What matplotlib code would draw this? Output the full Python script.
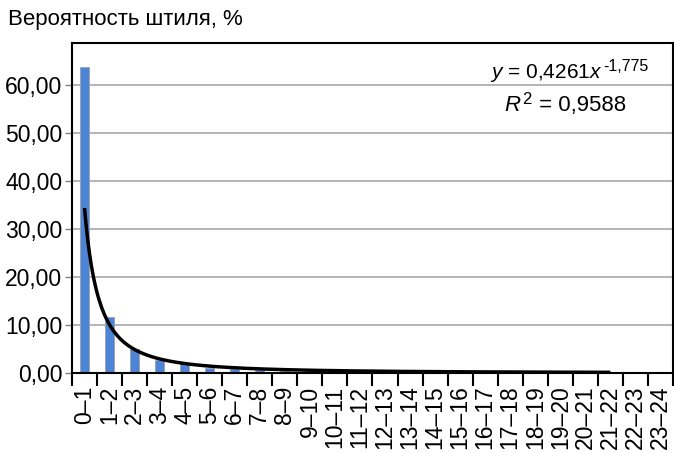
import numpy as np
import matplotlib
matplotlib.use("Agg")
import matplotlib.pyplot as plt
from matplotlib.ticker import FixedLocator, FuncFormatter

plt.rcParams['font.family'] = ['Liberation Sans', 'DejaVu Sans']
plt.rcParams['mathtext.fontset'] = 'custom'
plt.rcParams['mathtext.rm'] = 'Liberation Sans'
plt.rcParams['mathtext.it'] = 'Liberation Sans:italic'

# Hourly intervals of calm duration
categories = [f"{h}\u2013{h + 1}" for h in range(24)]

# Probability of calm, %
probability = [63.8, 11.7, 4.9, 2.7, 1.8, 1.1, 0.8, 0.6, 0.45, 0.4,
               0.35, 0.3, 0.25, 0.22, 0.2, 0.18, 0.15, 0.12, 0.1, 0.08,
               0.06, 0.05, 0.0, 0.0]

# Power trendline y = A * x^B
trend_coef = 0.4261
trend_exp = -1.775
trend_r2 = 0.9588
trend_start = 34.4          # trendline level at the first interval, %
trend_points = 22           # intervals covered by the trendline


def comma(v):
    return f"{v}".replace('.', ',')


fig = plt.figure(figsize=(6.74, 4.53), dpi=100)
ax = fig.add_axes([72 / 674, 1 - 373 / 453, 601 / 674, 330 / 453])

x = np.arange(len(categories))
ax.bar(x, probability, width=0.36, color='#4d84d6', edgecolor='#9aa3b0',
       linewidth=0.6, zorder=2)

xt = np.linspace(1, trend_points, 400)
yt = trend_start * xt ** trend_exp
ax.plot(xt - 1, yt, color='black', lw=2.5, zorder=3, solid_capstyle='butt')

ax.set_xlim(-0.5, -0.5 + 601 / 25.2)
ax.set_ylim(0, 68.8)

ax.yaxis.set_major_locator(FixedLocator(np.arange(0, 61, 10)))
ax.yaxis.set_major_formatter(FuncFormatter(lambda v, p: f"{v:.2f}".replace('.', ',')))
ax.grid(axis='y', color='#a0a0a0', lw=1.1, zorder=0)
ax.tick_params(axis='y', length=5, width=1.0, color='#808080', labelsize=16.5, pad=2)

ax.set_xticks(x)
ax.set_xticklabels(categories, rotation=90, fontsize=16.5)
ax.set_xticks(np.arange(-0.5, len(categories), 1.0), minor=True)
ax.tick_params(axis='x', which='major', length=0, pad=9)
ax.tick_params(axis='x', which='minor', length=9, width=1.5, color='black')

for s in ax.spines.values():
    s.set_linewidth(1.5)
    s.set_color('black')

# Trendline equation with a smaller superscript exponent
eq = fig.text(490 / 674, 1 - 78 / 453, r"$\mathit{y}$ = " + comma(trend_coef) + r"$\mathit{x}$",
              ha='left', va='baseline', fontsize=15)
ax.annotate(comma(trend_exp), xy=(1, 1), xycoords=eq, xytext=(0.5, 2),
            textcoords='offset points', ha='left', va='top', fontsize=11.5,
            annotation_clip=False)

r2 = fig.text(504 / 674, 1 - 111 / 453, r"$\mathit{R}$", ha='left', va='baseline',
              fontsize=16)
sup = ax.annotate("2", xy=(1, 1), xycoords=r2, xytext=(0.5, 2),
                  textcoords='offset points', ha='left', va='top', fontsize=12,
                  annotation_clip=False)
ax.annotate(" = " + comma(trend_r2), xy=(1, 0), xycoords=r2, xytext=(8, 0),
            textcoords='offset points', ha='left', va='bottom', fontsize=16,
            annotation_clip=False)

fig.text(8 / 674, 1 - 20 / 453, "Вероятность штиля, %", ha='left', va='center',
         fontsize=16)

fig.savefig("out.png", dpi=100)
